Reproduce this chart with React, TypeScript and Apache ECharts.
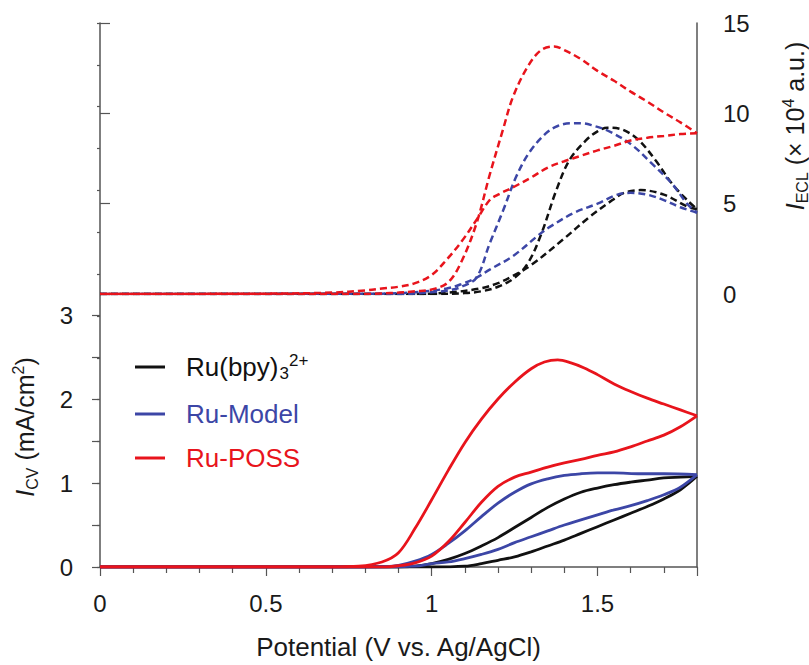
import React, { useEffect, useRef } from "react";
import * as echarts from "echarts";

// ---------- data (potential V, value) ----------
const xTickLabels = ["0", "0.5", "1", "1.5"];
const cvTickLabels = ["0", "1", "2", "3"];
const eclTickLabels = ["0", "5", "10", "15"];
const legendNames = ["Ru(bpy)3", "Ru-Model", "Ru-POSS"];

// CV (mA/cm2)
const bpyCvFwd = [[0, 0], [1.0, 0], [1.1, 0.01], [1.15, 0.04], [1.2, 0.08], [1.25, 0.12], [1.3, 0.18], [1.35, 0.25], [1.4, 0.32], [1.45, 0.4], [1.5, 0.48], [1.55, 0.56], [1.6, 0.64], [1.65, 0.72], [1.7, 0.81], [1.75, 0.92], [1.8, 1.08]];
const bpyCvRev = [[1.8, 1.08], [1.75, 1.07], [1.7, 1.06], [1.65, 1.035], [1.6, 1.01], [1.55, 0.98], [1.5, 0.94], [1.45, 0.89], [1.4, 0.81], [1.35, 0.71], [1.3, 0.59], [1.25, 0.47], [1.2, 0.35], [1.15, 0.25], [1.1, 0.16], [1.05, 0.09], [1.0, 0.04], [0.95, 0.01], [0.9, 0], [0, 0]];
const modelCvFwd = [[0, 0], [0.85, 0], [0.95, 0.01], [1.0, 0.04], [1.05, 0.06], [1.1, 0.1], [1.15, 0.15], [1.2, 0.21], [1.25, 0.29], [1.3, 0.36], [1.35, 0.43], [1.4, 0.5], [1.45, 0.56], [1.5, 0.62], [1.55, 0.68], [1.6, 0.73], [1.65, 0.79], [1.7, 0.86], [1.75, 0.95], [1.8, 1.1]];
const modelCvRev = [[1.8, 1.1], [1.7, 1.11], [1.63, 1.11], [1.55, 1.12], [1.5, 1.12], [1.45, 1.11], [1.4, 1.09], [1.35, 1.05], [1.3, 0.99], [1.25, 0.89], [1.2, 0.76], [1.15, 0.6], [1.1, 0.43], [1.05, 0.28], [1.0, 0.15], [0.95, 0.07], [0.9, 0.02], [0.85, 0.005], [0.8, 0], [0, 0]];
const possCvFwd = [[0, 0], [0.7, 0], [0.78, 0.01], [0.85, 0.06], [0.9, 0.17], [0.95, 0.46], [1.0, 0.8], [1.05, 1.15], [1.1, 1.48], [1.15, 1.76], [1.2, 2.0], [1.25, 2.2], [1.3, 2.36], [1.34, 2.44], [1.38, 2.465], [1.42, 2.43], [1.46, 2.37], [1.5, 2.29], [1.55, 2.18], [1.6, 2.09], [1.65, 2.01], [1.7, 1.94], [1.75, 1.87], [1.8, 1.8]];
const possCvRev = [[1.8, 1.8], [1.75, 1.67], [1.7, 1.57], [1.65, 1.5], [1.6, 1.43], [1.55, 1.37], [1.5, 1.33], [1.45, 1.28], [1.4, 1.24], [1.35, 1.19], [1.3, 1.13], [1.25, 1.07], [1.2, 0.96], [1.15, 0.77], [1.1, 0.53], [1.05, 0.3], [1.0, 0.13], [0.95, 0.05], [0.9, 0.015], [0.85, 0], [0, 0]];

// ECL (x 10^4 a.u.)
const bpyEclFwd = [[0, 0], [1.0, 0], [1.1, 0.05], [1.15, 0.15], [1.2, 0.4], [1.25, 0.9], [1.29, 1.7], [1.33, 3.3], [1.375, 5.7], [1.415, 7.4], [1.465, 8.5], [1.5, 9.0], [1.53, 9.2], [1.575, 9.1], [1.625, 8.5], [1.675, 7.4], [1.725, 6.1], [1.77, 5.2], [1.8, 4.7]];
const bpyEclRev = [[1.8, 4.7], [1.77, 4.85], [1.7, 5.5], [1.63, 5.75], [1.58, 5.6], [1.545, 5.2], [1.475, 4.25], [1.395, 3.0], [1.3, 1.6], [1.245, 1.0], [1.2, 0.6], [1.145, 0.3], [1.05, 0.08], [0.95, 0], [0, 0]];
const modelEclFwd = [[0, 0], [0.9, 0], [1.0, 0.1], [1.05, 0.2], [1.09, 0.4], [1.135, 0.9], [1.175, 2.8], [1.215, 4.6], [1.255, 6.5], [1.295, 7.85], [1.345, 8.9], [1.38, 9.3], [1.42, 9.45], [1.455, 9.45], [1.49, 9.3], [1.53, 9.05], [1.6, 8.3], [1.665, 7.2], [1.725, 6.1], [1.77, 5.0], [1.8, 4.5]];
const modelEclRev = [[1.8, 4.5], [1.75, 4.8], [1.7, 5.2], [1.65, 5.5], [1.6, 5.6], [1.56, 5.5], [1.5, 5.0], [1.43, 4.5], [1.355, 3.7], [1.325, 3.3], [1.245, 2.1], [1.175, 1.35], [1.135, 0.9], [1.09, 0.55], [1.045, 0.3], [0.95, 0.1], [0.85, 0.02], [0, 0]];
const possEclFwd = [[0, 0], [0.8, 0], [0.85, 0.03], [0.9, 0.08], [0.95, 0.15], [1.0, 0.25], [1.05, 0.65], [1.09, 1.8], [1.135, 3.9], [1.175, 6.6], [1.215, 9.1], [1.245, 10.9], [1.29, 12.6], [1.33, 13.5], [1.37, 13.7], [1.4, 13.5], [1.45, 13.0], [1.5, 12.35], [1.55, 11.8], [1.6, 11.2], [1.65, 10.65], [1.7, 10.05], [1.75, 9.5], [1.8, 8.9]];
const possEclRev = [[1.8, 8.9], [1.75, 8.85], [1.7, 8.75], [1.65, 8.65], [1.6, 8.5], [1.55, 8.2], [1.5, 7.95], [1.45, 7.65], [1.4, 7.35], [1.35, 7.0], [1.3, 6.45], [1.25, 5.95], [1.2, 5.5], [1.175, 5.2], [1.135, 4.1], [1.09, 2.9], [1.045, 1.9], [1.0, 1.05], [0.95, 0.6], [0.9, 0.4], [0.85, 0.3], [0.8, 0.2], [0.7, 0.08], [0.5, 0.02], [0, 0]];

const BLACK = "#111111";
const BLUE = "#3c46a6";
const RED = "#e8141c";
const FONT = "'Liberation Sans', Arial, Helvetica, sans-serif";

export default function App() {
  const ref = useRef<HTMLDivElement>(null);
  useEffect(() => {
    if (!ref.current) return;
    const chart = echarts.init(ref.current, undefined, { renderer: "svg" });

    const line = (name: string, data: number[][], color: string, axis: number, dashed: boolean) => ({
      type: "line",
      name,
      data,
      xAxisIndex: axis,
      yAxisIndex: axis === 1 ? 2 : 3,
      showSymbol: false,
      symbol: "none",
      smooth: 0.35,
      color,
      lineStyle: { color, width: dashed ? 2.5 : 2.8, type: dashed ? [7, 4] : "solid" },
      silent: true,
      z: 3,
    });

    const subRich = {
      sub: { fontSize: 16, fontFamily: FONT, verticalAlign: "bottom", lineHeight: 30, padding: [10, 0, 0, 0] },
      sup: { fontSize: 16, fontFamily: FONT, verticalAlign: "top", lineHeight: 30, padding: [0, 0, 10, 0] },
    };

    const mkLegend = (name: string, color: string, top: number) => ({
      show: true,
      data: [{ name, textStyle: { color } }],
      left: 130,
      top,
      orient: "vertical",
      icon: "rect",
      itemWidth: 30,
      itemHeight: 3,
      selectedMode: false,
      textStyle: {
        fontSize: 26,
        fontFamily: FONT,
        color,
        lineHeight: 30,
        padding: [0, 0, 0, 16],
        rich: {
          sub: { fontSize: 17, fontFamily: FONT, color, verticalAlign: "bottom", lineHeight: 30, padding: [12, 0, 0, 1] },
          sup: { fontSize: 17, fontFamily: FONT, color, verticalAlign: "top", lineHeight: 30, padding: [0, 0, 12, 0] },
        },
      },
      formatter: (n: string) => (n === "Ru(bpy)3" ? "Ru(bpy){sub|3}{sup|2+}" : n),
    });

    const option: any = {
      animation: false,
      grid: [
        { left: 100, right: 112, top: 23, bottom: 98 },
        { left: 100, right: 112, top: 23, bottom: 371 },
        { left: 100, right: 112, top: 315, bottom: 98 },
      ],
      legend: [
        mkLegend(legendNames[0], BLACK, 347),
        mkLegend(legendNames[1], BLUE, 394),
        mkLegend(legendNames[2], RED, 438),
      ],
      xAxis: [
        { type: "value", gridIndex: 0, min: 0, max: 1.8, show: false },
        { type: "value", gridIndex: 1, min: 0, max: 1.8, show: false },
        {
          type: "value",
          gridIndex: 2,
          min: 0,
          max: 1.8,
          interval: 0.5,
          axisLine: { show: true, lineStyle: { color: "#555", width: 1.5 } },
          axisTick: { show: true, length: 9, lineStyle: { color: "#555", width: 1.2 } },
          minorTick: { show: true, splitNumber: 5, length: 6, lineStyle: { color: "#555", width: 1.2 } },
          splitLine: { show: false },
          minorSplitLine: { show: false },
          axisLabel: {
            fontSize: 24,
            fontFamily: FONT,
            color: "#1a1a1a",
            margin: 24,
            showMaxLabel: false,
            formatter: (v: number) => {
              const i = Math.round(v / 0.5);
              return Math.abs(v - i * 0.5) < 1e-6 && i < xTickLabels.length ? xTickLabels[i] : "";
            },
          },
          name: "Potential (V vs. Ag/AgCl)",
          nameLocation: "middle",
          nameGap: 67,
          nameTextStyle: { fontSize: 26, fontFamily: FONT, color: "#1a1a1a" },
        },
      ],
      yAxis: [
        {
          type: "value",
          gridIndex: 0,
          position: "left",
          min: 0,
          max: 6.5,
          interval: 0.5,
          axisLine: { show: true, lineStyle: { color: "#555", width: 1.5 } },
          axisTick: { show: true, length: 3, lineStyle: { color: "#555", width: 1.2 } },
          axisLabel: { show: false },
          splitLine: { show: false },
        },
        {
          type: "value",
          gridIndex: 0,
          position: "right",
          min: 0,
          max: 1,
          axisLine: { show: true, lineStyle: { color: "#555", width: 1.5 } },
          axisTick: { show: false },
          axisLabel: { show: false },
          splitLine: { show: false },
        },
        {
          type: "value",
          gridIndex: 1,
          position: "right",
          min: 0,
          max: 15,
          interval: 5,
          axisLine: { show: false },
          axisTick: { show: true, length: 10, lineStyle: { color: "#555", width: 1.2 } },
          axisLabel: {
            fontSize: 24,
            fontFamily: FONT,
            color: "#1a1a1a",
            margin: 26,
            formatter: (v: number) => eclTickLabels[Math.round(v / 5)] ?? "",
          },
          splitLine: { show: false },
        },
        {
          type: "value",
          gridIndex: 2,
          position: "left",
          min: 0,
          max: 3,
          interval: 0.5,
          axisLine: { show: false },
          axisTick: { show: true, length: 8, lineStyle: { color: "#555", width: 1.2 } },
          axisLabel: {
            fontSize: 24,
            fontFamily: FONT,
            color: "#1a1a1a",
            margin: 27,
            formatter: (v: number) => (Math.abs(v - Math.round(v)) < 1e-6 ? cvTickLabels[Math.round(v)] ?? "" : ""),
          },
          splitLine: { show: false },
        },
      ],
      graphic: [
        {
          type: "text",
          x: 25,
          y: 427,
          rotation: Math.PI / 2,
          style: {
            text: "{i|I}{sub|CV} (mA/cm{sup|2})",
            fontSize: 25,
            fontFamily: FONT,
            fill: "#1a1a1a",
            align: "center",
            verticalAlign: "middle",
            rich: {
              i: { fontSize: 25, fontFamily: FONT, fontStyle: "italic", lineHeight: 30 },
              ...subRich,
            },
          },
        },
        {
          type: "text",
          x: 795,
          y: 126,
          rotation: Math.PI / 2,
          style: {
            text: "{i|I}{sub|ECL} (× 10{sup|4} a.u.)",
            fontSize: 25,
            fontFamily: FONT,
            fill: "#1a1a1a",
            align: "center",
            verticalAlign: "middle",
            rich: {
              i: { fontSize: 25, fontFamily: FONT, fontStyle: "italic", lineHeight: 30 },
              ...subRich,
            },
          },
        },
      ],
      series: [
        line("Ru(bpy)3 ECL", bpyEclFwd, BLACK, 1, true),
        line("Ru(bpy)3 ECL", bpyEclRev, BLACK, 1, true),
        line("Ru-Model ECL", modelEclFwd, BLUE, 1, true),
        line("Ru-Model ECL", modelEclRev, BLUE, 1, true),
        line("Ru-POSS ECL", possEclFwd, RED, 1, true),
        line("Ru-POSS ECL", possEclRev, RED, 1, true),
        line(legendNames[0], bpyCvFwd, BLACK, 2, false),
        line(legendNames[0], bpyCvRev, BLACK, 2, false),
        line(legendNames[1], modelCvFwd, BLUE, 2, false),
        line(legendNames[1], modelCvRev, BLUE, 2, false),
        line(legendNames[2], possCvFwd, RED, 2, false),
        line(legendNames[2], possCvRev, RED, 2, false),
      ],
    };
    chart.setOption(option);
    return () => chart.dispose();
  }, []);
  return <div ref={ref} style={{ position: "fixed", left: 0, top: 0, width: 809, height: 665, background: "#fff" }} />;
}
